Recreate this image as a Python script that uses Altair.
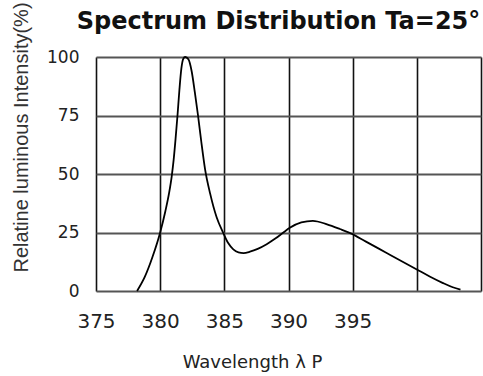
import altair as alt
import pandas as pd

wavelength = [378.2, 378.8, 379.4, 380.0, 380.4, 380.7, 380.9, 381.05, 381.2, 381.35,
              381.5, 381.65, 381.8, 381.95, 382.2, 382.45, 382.7, 382.95, 383.2, 383.5,
              383.9, 384.4, 384.9, 385.3, 385.7, 386.1, 386.5, 387.0, 387.6, 388.3,
              389.0, 389.6, 390.1, 391.0, 391.9, 393.0, 394.0, 394.9, 396.0, 397.0,
              398.0, 399.0, 400.0, 401.0, 402.0, 402.8, 403.4]
intensity = [0, 6, 14.5, 25, 34, 42, 49, 56, 65, 75,
             86, 95, 99.2, 100, 99, 94, 85, 75, 64, 52,
             41.5, 31.5, 25, 20.5, 17.8, 16.5, 16.2, 16.8, 18, 20,
             22.5, 25, 27, 29.3, 30, 28.5, 26.5, 24.5, 21.2, 18.2,
             15.2, 12.2, 9.2, 6.2, 3.5, 1.6, 0.6]
x_ticks = [375, 380, 385, 390, 395, 400, 405]
y_ticks = [0, 25, 50, 75, 100]

df = pd.DataFrame({"wl": wavelength, "val": intensity})

chart = alt.Chart(df).mark_line(color="black", strokeWidth=1.8, interpolate="monotone").encode(
    x=alt.X("wl:Q", scale=alt.Scale(domain=[375, 405], nice=False, zero=False),
            axis=alt.Axis(values=x_ticks, title="Wavelength λ P",
                          labelExpr="datum.value >= 400 ? '' : datum.label",
                          labelFont="DejaVu Sans", labelFontSize=20, labelColor="#222",
                          labelPadding=20, tickSize=0, domain=False, labelFlush=False,
                          labelOverlap=False,
                          grid=True, gridColor="#111", gridWidth=1.6, gridOpacity=1,
                          titleFont="DejaVu Sans", titleFontSize=18, titleFontWeight="normal",
                          titleColor="#222", titleX=156, titleY=76, titleAnchor="start",
                          titleAlign="center", titleBaseline="alphabetic")),
    y=alt.Y("val:Q", scale=alt.Scale(domain=[0, 100], nice=False),
            axis=alt.Axis(values=y_ticks, title="Relatine luminous Intensity(%)",
                          labelFont="DejaVu Sans", labelFontSize=17, labelColor="#222",
                          labelPadding=17, tickSize=0, domain=False, labelFlush=False,
                          labelOverlap=False,
                          grid=True, gridColor="#555", gridWidth=2, gridOpacity=1,
                          titleFont="Liberation Sans", titleFontSize=20, titleFontWeight="normal",
                          titleColor="#333", titleX=-75, titleY=80, titleAngle=270,
                          titleAlign="center", titleBaseline="middle")),
).properties(
    width=385, height=234,
    title=alt.TitleParams("Spectrum Distribution  Ta=25°", font="DejaVu Sans", fontSize=24,
                          fontWeight="bold", color="#111", anchor="middle", frame="group",
                          dx=-10, offset=0, dy=51, baseline="alphabetic"),
    autosize=alt.AutoSizeParams(type="none"),
    padding={"left": 96, "top": 57, "right": 2, "bottom": 85},
).configure_view(stroke="black", strokeWidth=1.6).configure(background="white")

chart.save("out.html", embed_options={"renderer": "svg", "actions": False})
